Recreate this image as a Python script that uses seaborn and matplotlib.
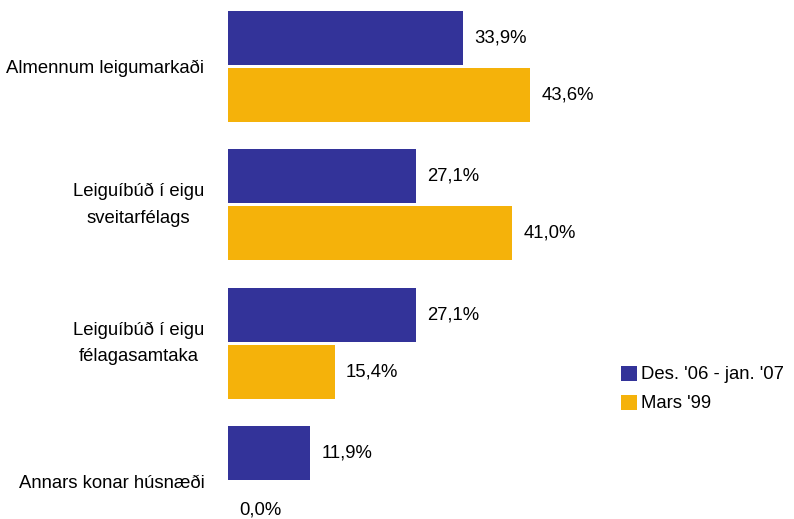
import pandas as pd
import matplotlib.pyplot as plt
import seaborn as sns

categories = ["Almennum leigumarkaði",
              "Leiguíbúð í eigu\nsveitarfélags",
              "Leiguíbúð í eigu\nfélagasamtaka",
              "Annars konar húsnæði"]
des_06_07 = [33.9, 27.1, 27.1, 11.9]
mars_99 = [43.6, 41.0, 15.4, 0.0]
series = ["Des. '06 - jan. '07", "Mars '99"]
colors = ["#333399", "#F5B20A"]

df = pd.DataFrame({
    "category": categories * 2,
    "value": des_06_07 + mars_99,
    "period": [series[0]] * len(categories) + [series[1]] * len(categories),
})

sns.set_style("white")
plt.rcParams['font.family'] = ['Liberation Sans', 'DejaVu Sans']
plt.rcParams['text.color'] = 'black'
plt.rcParams['ytick.color'] = 'black'

fs = 13.3

fig = plt.figure(figsize=(7.94, 5.19), dpi=100)
ax = fig.add_axes([228 / 794, 1 - 551 / 519, 346.5 / 794, 554 / 519])

sns.barplot(data=df, x="value", y="category", hue="period", palette=colors,
            saturation=1, linewidth=0, orient="h", width=0.82, gap=0.05, ax=ax)

ax.set_xlim(0, 50)
ax.set_ylim(3.5, -0.5)
sns.despine(ax=ax, left=True, bottom=True)
ax.set_xticks([])
ax.set_xlabel("")
ax.set_ylabel("")
ax.tick_params(axis="y", length=0, pad=17, labelsize=fs)
for lbl in ax.get_yticklabels():
    if "\n" in lbl.get_text():
        lbl.set_multialignment("center")
        lbl.set_linespacing(1.75)
        lbl.set_verticalalignment("center")
    else:
        lbl.set_verticalalignment("center_baseline")

for cont in ax.containers:
    ax.bar_label(cont, labels=[f"{v:.1f}%".replace(".", ",") for v in cont.datavalues],
                 padding=8, fontsize=fs)

handles, labels = ax.get_legend_handles_labels()
ax.legend_.remove()
fig.legend(handles, labels, loc="center left", bbox_to_anchor=(621 / 794, 1 - 389 / 519),
           frameon=False, fontsize=fs, handlelength=0.87, handleheight=0.87,
           handletextpad=0.2, labelspacing=0.6, borderpad=0, borderaxespad=0)

fig.savefig("out.png", dpi=100)
